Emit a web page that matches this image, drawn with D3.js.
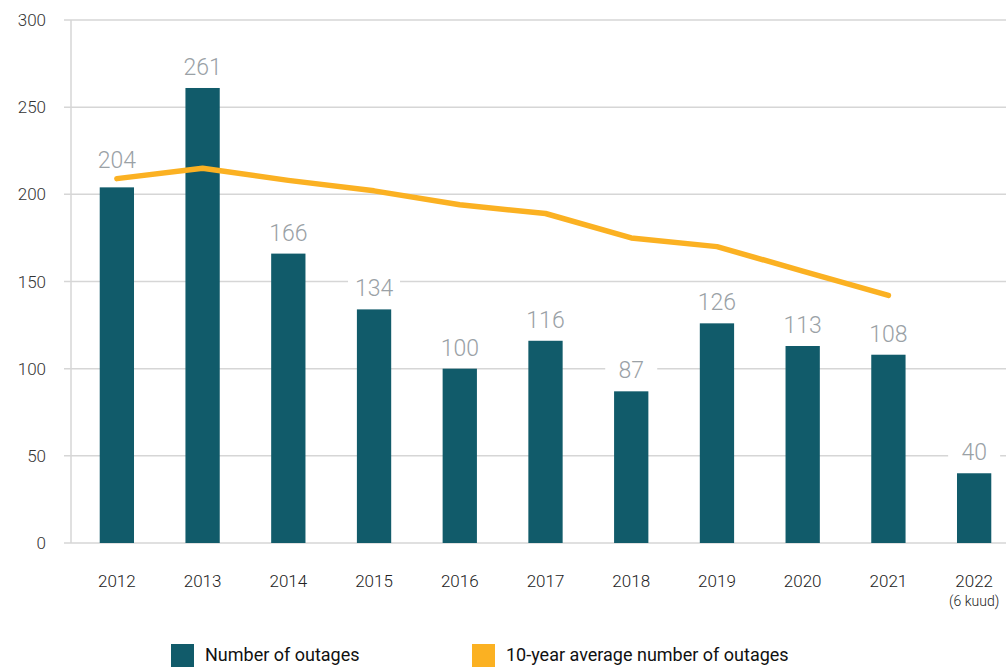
<!DOCTYPE html>
<html><head><meta charset="utf-8">
<script src="https://cdn.jsdelivr.net/npm/d3@7"></script>
<style>body{margin:0;background:#fff}svg{display:block}text{font-family:Roboto,"Open Sans",sans-serif}</style>
</head><body><svg id="c" width="1006" height="667"></svg>
<script>
const years = ["2012","2013","2014","2015","2016","2017","2018","2019","2020","2021","2022"];
const outages = [204,261,166,134,100,116,87,126,113,108,40];
const avgYears = ["2012","2013","2014","2015","2016","2017","2018","2019","2020","2021"];
const avgOutages = [209,215,208,202,194,189,175,170,156,142];
const yTicks = [0,50,100,150,200,250,300];
const seriesNames = ["Number of outages","10-year average number of outages"];

const svg = d3.select("#c");
const x = d3.scaleBand().domain(years).range([74,1017]).paddingInner(0.6).paddingOuter(0.3);
const y = d3.scaleLinear().domain([0,300]).range([543,20]);
const grid="#d6d6d6", teal="#115b6a", orange="#fbb122";

svg.append("g").selectAll("line").data(yTicks).join("line")
  .attr("x1",64).attr("x2",1006).attr("y1",d=>y(d)).attr("y2",d=>y(d))
  .attr("stroke",grid).attr("stroke-width",1.5);
svg.append("line").attr("x1",71).attr("x2",71).attr("y1",y(300)).attr("y2",y(0)).attr("stroke",grid).attr("stroke-width",1.5);
svg.append("g").selectAll("text").data(yTicks).join("text")
  .attr("x",46).attr("y",d=>y(d)+6).attr("text-anchor","end")
  .attr("font-size",17).attr("fill","#333").attr("font-weight",300).text(d=>d);

const cx = d=>x(d)+x.bandwidth()/2;
svg.append("g").selectAll("rect").data(years).join("rect")
  .attr("x",d=>x(d)).attr("width",x.bandwidth())
  .attr("y",(d,i)=>y(outages[i])).attr("height",(d,i)=>y(0)-y(outages[i]))
  .attr("fill",teal);

function labelY(i){
  let b = y(outages[i]) - 13;
  const j = avgYears.indexOf(years[i]);
  if (j>=0){ const ly = y(avgOutages[j]); if (b > ly-8 && b-18 < ly+4) b = ly - 11; }
  return b;
}
const lg = svg.append("g").selectAll("g").data(years).join("g")
  .attr("transform",(d,i)=>`translate(${cx(d)},${labelY(i)})`);
lg.append("rect").attr("x",-26).attr("y",-19).attr("width",52).attr("height",22).attr("fill","#fff");
lg.append("text").attr("text-anchor","middle").attr("font-size",23).attr("font-weight",300)
  .attr("fill","#9aa1a6").text((d,i)=>outages[i]);

const line = d3.line().x(d=>cx(d[0])).y(d=>y(d[1]));
svg.append("path").datum(avgYears.map((d,i)=>[d,avgOutages[i]]))
  .attr("d",line).attr("fill","none").attr("stroke",orange).attr("stroke-width",5.5)
  .attr("stroke-linecap","round").attr("stroke-linejoin","round");

svg.append("g").selectAll("text").data(years).join("text")
  .attr("x",d=>cx(d)).attr("y",587).attr("text-anchor","middle")
  .attr("font-size",17).attr("font-weight",300).attr("fill","#222").text(d=>d);
svg.append("text").attr("x",cx("2022")).attr("y",606).attr("text-anchor","middle")
  .attr("font-size",14).attr("font-weight",300).attr("fill","#222").text("(6 kuud)");

const legX=[171,472], legC=[teal,orange];
seriesNames.forEach((n,i)=>{
  svg.append("rect").attr("x",legX[i]).attr("y",644).attr("width",23).attr("height",23).attr("fill",legC[i]);
  svg.append("text").attr("x",legX[i]+34).attr("y",661).attr("font-size",18).attr("fill","#111").text(n);
});
</script></body></html>
